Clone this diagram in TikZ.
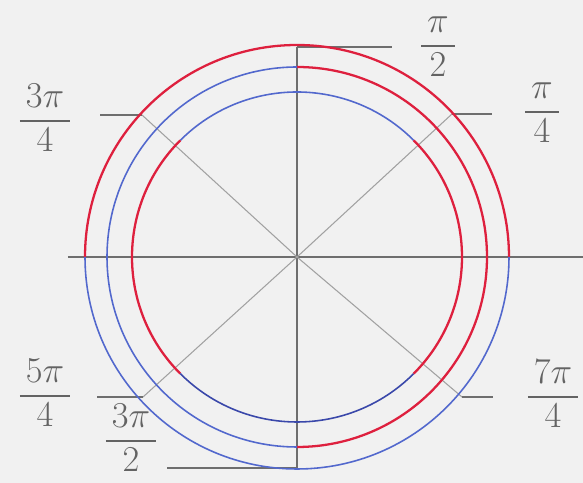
\documentclass[tikz,border=0pt]{standalone}
\usepackage{amsmath}
\usepackage{tikz}
\usetikzlibrary{positioning}

\definecolor{paper}{RGB}{241,241,241}
\definecolor{pencil}{RGB}{110,110,110}
\definecolor{crayonred}{RGB}{222,32,62}
\definecolor{crayonblue}{RGB}{82,104,205}
\definecolor{darkblue}{RGB}{58,72,170}

\newcommand{\penfrac}[2]{\setlength{\arrayrulewidth}{1.2pt}\renewcommand{\arraystretch}{0.85}%
  \begin{tabular}{@{\,}c@{\,}}$#1$\\[1pt]\hline\rule{0pt}{0.8em}$#2$\end{tabular}}

\begin{document}
\begin{tikzpicture}[
  x=0.02cm, y=0.02cm,
  axis/.style={draw=pencil, line width=0.7pt},
  diag/.style={draw=pencil!65, line width=0.6pt},
  redarc/.style={draw=crayonred, line width=1.3pt},
  bluearc/.style={draw=crayonblue, line width=0.9pt},
  lbl/.style={text=pencil!90!black, font=\huge, inner sep=0pt}
]
\fill[paper] (0,0) rectangle (583,483);
\useasboundingbox (0,0) rectangle (583,483);

\coordinate (O) at (297,226);
\coordinate (hl) at (68,226);
\coordinate (hr) at (583,226);
\coordinate (vt) at (297,436);
\coordinate (vb) at (297,15);

\coordinate (d45) at (452,369);
\coordinate (d135) at (142,368);
\coordinate (d225) at (143,86);
\coordinate (d315) at (462,86);

\coordinate (t90) at (392,436);
\coordinate (t270) at (167,15);
\coordinate (t45) at (492,369);
\coordinate (t135) at (100,368);
\coordinate (t225) at (97,86);
\coordinate (t315) at (493,86);

% axes and ticks
\draw[axis] (hl) -- (hr);
\draw[axis] (vb) -- (vt);
\draw[diag] (O) -- (d45);
\draw[diag] (O) -- (d135);
\draw[diag] (O) -- (d225);
\draw[diag] (O) -- (d315);
\draw[axis] (vt) -- (t90);
\draw[axis] (vb) -- (t270);
\draw[axis] (d45) -- (t45);
\draw[axis] (d135) -- (t135);
\draw[axis] (d225) -- (t225);
\draw[axis] (d315) -- (t315);

% outer circle
\draw[redarc] (O) ++(0:212) arc[start angle=0, end angle=180, radius=212];
\draw[bluearc] (O) ++(180:212) arc[start angle=180, end angle=360, radius=212];

% middle circle
\draw[redarc] (O) ++(-90:190) arc[start angle=-90, end angle=90, radius=190];
\draw[bluearc] (O) ++(90:190) arc[start angle=90, end angle=270, radius=190];

% inner circle
\draw[bluearc] (O) ++(45:165) arc[start angle=45, end angle=135, radius=165];
\draw[redarc] (O) ++(135:165) arc[start angle=135, end angle=225, radius=165];
\draw[bluearc, draw=darkblue] (O) ++(225:165) arc[start angle=225, end angle=315, radius=165];
\draw[redarc] (O) ++(-45:165) arc[start angle=-45, end angle=45, radius=165];

% labels
\node[lbl] (l90) at (438,436) {\penfrac{\pi}{2}};
\node[lbl] (l45) at (542,370) {\penfrac{\pi}{4}};
\node[lbl] (l135) at (45,361) {\penfrac{3\pi}{4}};
\node[lbl] (l225) at (45,86) {\penfrac{5\pi}{4}};
\node[lbl] (l270) at (131,41) {\penfrac{3\pi}{2}};
\node[lbl] (l315) at (553,85) {\penfrac{7\pi}{4}};
\end{tikzpicture}
\end{document}
